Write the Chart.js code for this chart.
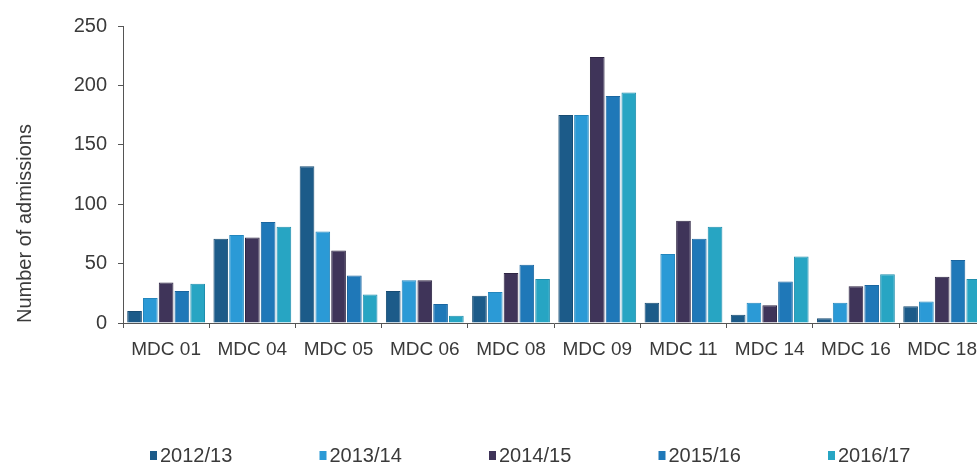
<!DOCTYPE html>
<html>
<head>
<meta charset="utf-8">
<script src="https://cdn.jsdelivr.net/npm/chart.js@4"></script>
<style>
  html, body { margin: 0; padding: 0; background: #ffffff; overflow: hidden; }
  #wrap { width: 977px; height: 463px; overflow: hidden; }
  canvas { display: block; }
</style>
</head>
<body>
<div id="wrap"><canvas id="chart" width="987" height="463"></canvas></div>
<script>
// Admissions by Major Diagnostic Category, five financial years
const categories = ['MDC 01', 'MDC 04', 'MDC 05', 'MDC 06', 'MDC 08', 'MDC 09', 'MDC 11', 'MDC 14', 'MDC 16', 'MDC 18'];
const seriesNames = ['2012/13', '2013/14', '2014/15', '2015/16', '2016/17'];
const fy2012 = [10, 71, 132, 27, 23, 175, 17, 7, 4, 14];
const fy2013 = [21, 74, 77, 36, 26, 175, 58, 17, 17, 18];
const fy2014 = [34, 72, 61, 36, 42, 224, 86, 15, 31, 39];
const fy2015 = [27, 85, 40, 16, 49, 191, 71, 35, 32, 53];
const fy2016 = [33, 81, 24, 6, 37, 194, 81, 56, 41, 37];
const yTicks = [0, 50, 100, 150, 200, 250];
const axisTitle = 'Number of admissions';

const seriesValues = [fy2012, fy2013, fy2014, fy2015, fy2016];
const fills = ['#1c5b89', '#2b9ad6', '#3f3459', '#1f78b8', '#27a5c3'];
const edges = ['#174c73', '#2386bd', '#2e2543', '#1a66a0', '#1f8ead'];

const FONT = '"Liberation Sans", Arial, sans-serif';
const TEXT = '#3a3a3a';

// Legend row along the bottom edge: small square swatch followed by the year label
const bottomLegend = {
  id: 'bottomLegend',
  afterDraw(chart, args, opts) {
    const ctx = chart.ctx;
    ctx.save();
    ctx.font = '20px ' + FONT;
    ctx.textBaseline = 'alphabetic';
    ctx.textAlign = 'left';
    chart.data.datasets.forEach((ds, i) => {
      const x = opts.startX + i * opts.step;
      ctx.fillStyle = ds.backgroundColor;
      ctx.fillRect(x, opts.baseline - 11, 7, 9);
      ctx.fillStyle = TEXT;
      ctx.fillText(ds.label, x + 10, opts.baseline);
    });
    ctx.restore();
  }
};

new Chart(document.getElementById('chart'), {
  type: 'bar',
  data: {
    labels: categories,
    datasets: seriesNames.map((name, i) => ({
      label: name,
      data: seriesValues[i],
      backgroundColor: fills[i],
      borderColor: edges[i],
      borderWidth: 1,
      categoryPercentage: 0.915,
      barPercentage: 0.93
    }))
  },
  options: {
    responsive: false,
    animation: false,
    devicePixelRatio: 1,
    layout: { padding: { top: 26, left: 0, right: 0, bottom: 0 } },
    plugins: {
      legend: { display: false },
      tooltip: { enabled: false },
      bottomLegend: { startX: 150, step: 169.5, baseline: 462 }
    },
    scales: {
      x: {
        offset: true,
        afterFit(scale) { scale.height = 140; },
        grid: {
          offset: true,
          drawOnChartArea: false,
          drawTicks: true,
          tickLength: 5,
          tickColor: '#555555'
        },
        border: { display: true, color: '#555555', width: 1 },
        ticks: {
          color: TEXT,
          font: { family: FONT, size: 19 },
          padding: 10,
          maxRotation: 0,
          autoSkip: false
        }
      },
      y: {
        min: 0,
        max: 250,
        afterFit(scale) { scale.width = 123; },
        afterBuildTicks(scale) { scale.ticks = yTicks.map(v => ({ value: v })); },
        grid: {
          drawOnChartArea: false,
          drawTicks: true,
          tickLength: 5,
          tickColor: '#555555'
        },
        border: { display: true, color: '#555555', width: 1 },
        ticks: {
          color: TEXT,
          font: { family: FONT, size: 20 },
          padding: 11
        },
        title: {
          display: true,
          text: axisTitle,
          align: 'start',
          color: TEXT,
          font: { family: FONT, size: 20 },
          padding: { top: 13, bottom: 0 }
        }
      }
    }
  },
  plugins: [bottomLegend]
});
</script>
</body>
</html>
